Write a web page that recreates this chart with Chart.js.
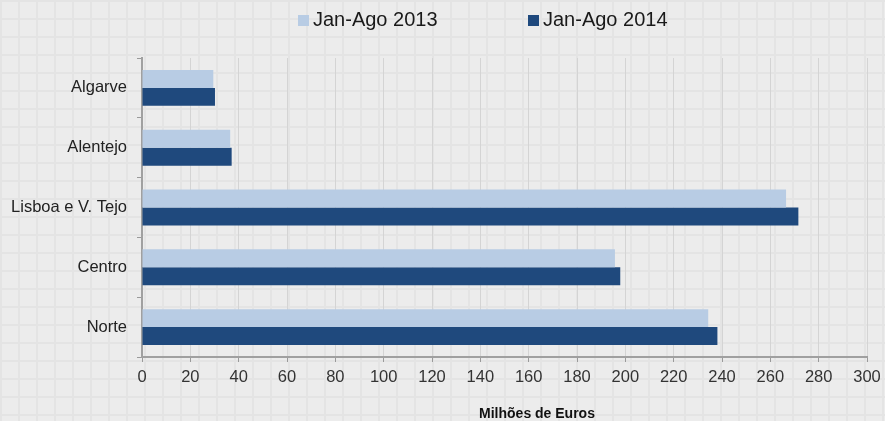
<!DOCTYPE html>
<html>
<head>
<meta charset="utf-8">
<script src="https://cdn.jsdelivr.net/npm/chart.js@4"></script>
<style>
  html, body { margin: 0; padding: 0; }
  body {
    width: 885px; height: 421px; overflow: hidden;
    background-color: #ececec;
    background-image:
      linear-gradient(to right, #e4e4e4 2px, transparent 2px),
      linear-gradient(to bottom, #e4e4e4 2px, transparent 2px);
    background-size: 18px 18px;
  }
  #wrap { position: relative; width: 885px; height: 421px; }
</style>
</head>
<body>
<div id="wrap"><canvas id="c"></canvas></div>
<script>
const categories = ['Algarve', 'Alentejo', 'Lisboa e V. Tejo', 'Centro', 'Norte'];
const seriesNames = ['Jan-Ago 2013', 'Jan-Ago 2014'];
const values2013 = [29.5, 36.5, 266.5, 195.7, 234.3];
const values2014 = [30.2, 37.1, 271.6, 197.9, 238.1];
const xMin = 0, xMax = 300, xStep = 20;
const axisTitle = 'Milhões de Euros';

const colors = ['#b8cce4', '#1f497d'];
const FONT = "'Liberation Sans', Arial, sans-serif";

const overlayPlugin = {
  id: 'overlay',
  afterDraw(chart) {
    const ctx = chart.ctx;
    ctx.save();
    // legend
    const items = [{ x: 298 }, { x: 528 }];
    chart.data.datasets.forEach((ds, i) => {
      const x = items[i].x;
      ctx.fillStyle = ds.backgroundColor;
      ctx.fillRect(x, 15, 11, 11);
      ctx.fillStyle = '#1a1a1a';
      ctx.font = '20px ' + FONT;
      ctx.textBaseline = 'middle';
      ctx.textAlign = 'left';
      ctx.fillText(ds.label, x + 15, 20);
    });
    // axis title
    ctx.font = 'bold 14px ' + FONT;
    ctx.fillStyle = '#111';
    ctx.textAlign = 'center';
    ctx.textBaseline = 'alphabetic';
    ctx.fillText(axisTitle, 537, 418);
    ctx.restore();
  }
};

new Chart(document.getElementById('c'), {
  type: 'bar',
  data: {
    labels: categories,
    datasets: [
      { label: seriesNames[0], data: values2013, backgroundColor: colors[0] },
      { label: seriesNames[1], data: values2014, backgroundColor: colors[1] }
    ]
  },
  options: {
    indexAxis: 'y',
    responsive: true,
    maintainAspectRatio: false,
    animation: false,
    devicePixelRatio: 1,
    categoryPercentage: 0.6,
    barPercentage: 1.0,
    layout: { padding: { top: 58, right: 0, bottom: 24, left: 0 } },
    plugins: {
      legend: { display: false },
      tooltip: { enabled: false }
    },
    scales: {
      x: {
        min: xMin, max: xMax,
        ticks: { stepSize: xStep, color: '#333', font: { family: FONT, size: 16.5 }, padding: 6 },
        grid: { color: '#d4d4d4', tickColor: '#9a9a9a', tickLength: 5, lineWidth: 1 },
        border: { color: '#a0a0a0', width: 2 },
        afterFit(scale) { scale.height = 40; scale.paddingRight = 18; scale.paddingLeft = 0; }
      },
      y: {
        ticks: { color: '#222', font: { family: FONT, size: 16.5 }, padding: 10 },
        grid: { drawOnChartArea: false, tickColor: '#9a9a9a', tickLength: 5, offset: true },
        border: { color: '#a0a0a0', width: 2 },
        afterFit(scale) { scale.width = 142; }
      }
    }
  },
  plugins: [overlayPlugin]
});
</script>
</body>
</html>
